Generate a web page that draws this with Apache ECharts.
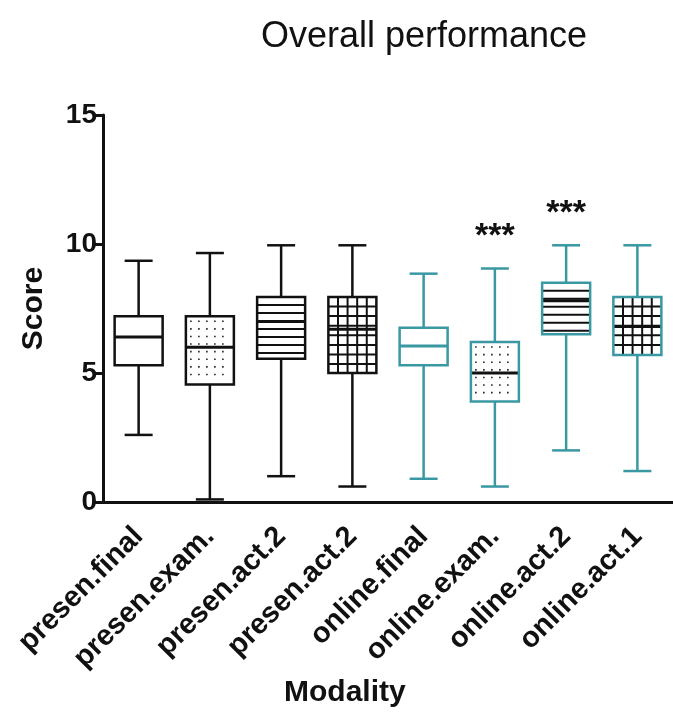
<!DOCTYPE html>
<html>
<head>
<meta charset="utf-8">
<script src="https://cdn.jsdelivr.net/npm/echarts@6/dist/echarts.min.js"></script>
<style>
    html, body { margin: 0; padding: 0; background: #fff; }
    #chartDiv { width: 673px; height: 715px; }
</style>
</head>
<body>
<div id="chartDiv"></div>
<script>
// 数据
var categories = ['presen.final', 'presen.exam.', 'presen.act.2', 'presen.act.2',
    'online.final', 'online.exam.', 'online.act.2', 'online.act.1'];
var whiskerLow = [2.6, 0.1, 1.0, 0.6, 0.9, 0.6, 2.0, 1.2];
var q1 = [5.3, 4.55, 5.55, 5.0, 5.3, 3.9, 6.5, 5.7];
var median = [6.4, 6.0, 7.0, 6.7, 6.05, 5.0, 7.8, 6.8];
var q3 = [7.2, 7.2, 7.95, 7.95, 6.75, 6.2, 8.5, 7.95];
var whiskerHigh = [9.35, 9.65, 9.95, 9.95, 8.85, 9.05, 9.95, 9.95];
var significance = ['', '', '', '', '', '***', '***', ''];
var patterns = ['none', 'dots', 'hlines', 'grid', 'none', 'dots', 'hlines', 'grid'];
var groupOf = ['presen', 'presen', 'presen', 'presen', 'online', 'online', 'online', 'online'];

var colorOf = {presen: '#111111', online: '#3a98a3'};
var font = '"Liberation Sans", Arial, sans-serif';
var boxWidth = 48;
var capWidth = 28;

var boxData = [];
for (var i = 0; i < categories.length; i++) {
    boxData.push([i, whiskerLow[i], q1[i], median[i], q3[i], whiskerHigh[i]]);
}

/*
* 箱体内的花纹
* */
function patternChildren(kind, left, top, w, h) {
    var list = [];
    var right = left + w, bottom = top + h;
    var y, x, k;
    if (kind == 'hlines') {
        for (y = top + 8; y < bottom - 3; y += 8) {
            list.push({type: 'line', shape: {x1: left, y1: y, x2: right, y2: y},
                style: {stroke: '#111', lineWidth: 2}});
        }
    } else if (kind == 'grid') {
        var step = w / 5;
        for (k = 1; k < 5; k++) {
            x = left + k * step;
            list.push({type: 'line', shape: {x1: x, y1: top, x2: x, y2: bottom},
                style: {stroke: '#111', lineWidth: 2}});
        }
        for (y = top + step; y < bottom - 2; y += step) {
            list.push({type: 'line', shape: {x1: left, y1: y, x2: right, y2: y},
                style: {stroke: '#111', lineWidth: 2}});
        }
    } else if (kind == 'dots') {
        for (y = top + 5; y < bottom - 3; y += 7.6) {
            for (x = left + 5; x < right - 3; x += 8) {
                list.push({type: 'rect', shape: {x: x - 0.8, y: y - 0.8, width: 1.6, height: 1.6},
                    style: {fill: '#222'}});
            }
        }
    }
    return list;
}

function renderBox(params, api) {
    var i = api.value(0);
    var low = api.coord([i, api.value(1)]);
    var b1 = api.coord([i, api.value(2)]);
    var med = api.coord([i, api.value(3)]);
    var b3 = api.coord([i, api.value(4)]);
    var high = api.coord([i, api.value(5)]);
    var cx = low[0];
    var color = colorOf[groupOf[i]];
    var left = cx - boxWidth / 2;
    var top = b3[1];
    var h = b1[1] - b3[1];
    var lw = 2.5;

    var children = [];
    children.push({type: 'rect', shape: {x: left, y: top, width: boxWidth, height: h}, style: {fill: '#fff'}});
    children = children.concat(patternChildren(patterns[i], left, top, boxWidth, h));
    // 须线
    children.push({type: 'line', shape: {x1: cx, y1: high[1], x2: cx, y2: top}, style: {stroke: color, lineWidth: lw}});
    children.push({type: 'line', shape: {x1: cx, y1: b1[1], x2: cx, y2: low[1]}, style: {stroke: color, lineWidth: lw}});
    children.push({type: 'line', shape: {x1: cx - capWidth / 2, y1: high[1], x2: cx + capWidth / 2, y2: high[1]},
        style: {stroke: color, lineWidth: lw}});
    children.push({type: 'line', shape: {x1: cx - capWidth / 2, y1: low[1], x2: cx + capWidth / 2, y2: low[1]},
        style: {stroke: color, lineWidth: lw}});
    // 中位数
    children.push({type: 'line', shape: {x1: left, y1: med[1], x2: left + boxWidth, y2: med[1]},
        style: {stroke: patterns[i] == 'none' ? color : '#111', lineWidth: lw + 0.5}});
    // 箱体边框
    children.push({type: 'rect', shape: {x: left, y: top, width: boxWidth, height: h},
        style: {fill: null, stroke: color, lineWidth: lw}});
    // 显著性
    if (significance[i]) {
        children.push({type: 'text', x: cx, y: high[1] - 32,
            style: {text: significance[i], fill: '#111', font: 'bold 34px ' + font, align: 'center', verticalAlign: 'middle'}});
    }
    return {type: 'group', children: children};
}

var chart = echarts.init(document.getElementById('chartDiv'));
var option = {
    backgroundColor: '#fff',
    animation: false,
    title: {
        text: 'Overall performance',
        left: 256,
        top: 14,
        textStyle: {fontFamily: font, fontSize: 36, fontWeight: 'normal', color: '#111'}
    },
    graphic: [{
        type: 'text',
        left: 284,
        top: 678,
        style: {text: 'Modality', font: 'bold 30px ' + font, fill: '#111'}
    }],
    grid: {
        left: 103,
        top: 115,
        width: 578,
        height: 387
    },
    xAxis: {
        type: 'category',
        data: categories,
        boundaryGap: true,
        axisLine: {lineStyle: {color: '#111', width: 3}},
        axisTick: {alignWithLabel: true, length: 9, lineStyle: {color: '#111', width: 3}},
        axisLabel: {
            interval: 0,
            rotate: 45,
            margin: 30,
            color: '#111',
            fontFamily: font,
            fontWeight: 'bold',
            fontSize: 29
        },
        splitLine: {show: false}
    },
    yAxis: {
        type: 'value',
        min: 0,
        max: 15,
        interval: 5,
        name: 'Score',
        nameLocation: 'middle',
        nameRotate: 90,
        nameGap: 54,
        nameTextStyle: {fontFamily: font, fontWeight: 'bold', fontSize: 30, color: '#111'},
        axisLine: {show: true, lineStyle: {color: '#111', width: 3}},
        axisTick: {show: true, length: 9, lineStyle: {color: '#111', width: 3}},
        axisLabel: {margin: 6, color: '#111', fontFamily: font, fontWeight: 'bold', fontSize: 28},
        splitLine: {show: false}
    },
    series: [{
        type: 'custom',
        coordinateSystem: 'cartesian2d',
        renderItem: renderBox,
        encode: {x: 0, y: [1, 2, 3, 4, 5]},
        data: boxData,
        clip: false
    }]
};
chart.setOption(option);
</script>
</body>
</html>
